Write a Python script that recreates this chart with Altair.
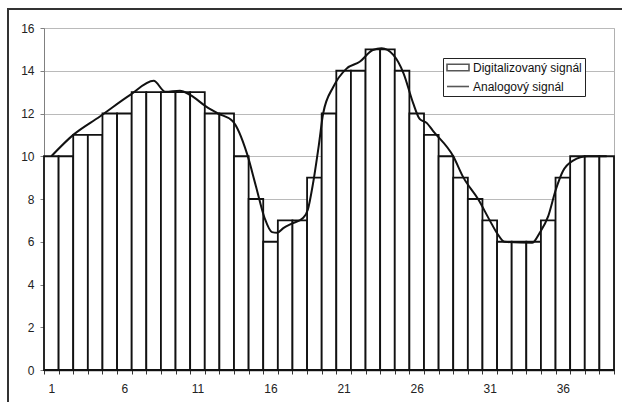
import altair as alt
import pandas as pd

# ---- data ----
categories = list(range(1, 40))
digital = [10, 10, 11, 11, 12, 12, 13, 13, 13, 13, 13, 12, 12, 10, 8, 6, 7, 7, 9, 12,
           14, 14, 15, 15, 14, 12, 11, 10, 9, 8, 7, 6, 6, 6, 7, 9, 10, 10, 10]

analog_x = [1.0, 2.5, 4.3, 6.4, 8.0, 8.8, 9.8, 10.5, 11.6, 12.4, 13.4, 14.4, 15.0, 15.6,
            16.1, 16.45, 16.9, 17.5, 18.2, 18.55, 18.9, 19.3, 19.6, 20.3, 21.2, 22.1,
            23.0, 23.6, 24.4, 25.1, 25.75, 26.2, 26.7, 27.1, 28.5, 29.2, 30.2, 31.0,
            31.5, 32.0, 33.9, 34.4, 35.0, 35.5, 36.0, 36.7, 37.7, 39.0]
analog_y = [10.0, 11.0, 11.85, 12.87, 13.53, 13.02, 13.07, 12.87, 12.32, 12.0, 11.65, 10.1,
            8.6, 7.1, 6.45, 6.42, 6.65, 6.86, 7.1, 7.5, 8.7, 10.5, 12.0, 13.25, 14.1,
            14.42, 14.97, 15.05, 14.74, 13.88, 12.5, 11.75, 11.55, 11.2, 10.0, 9.0, 8.0,
            7.0, 6.4, 6.0, 5.95, 6.4, 7.2, 8.4, 9.3, 9.8, 10.0, 10.0]

SER_D = "Digitalizovaný signál"
SER_A = "Analogový signál"
series = [SER_D, SER_A]
y_ticks = [0, 2, 4, 6, 8, 10, 12, 14, 16]
x_labels = [1, 6, 11, 16, 21, 26, 31, 36]

bars_df = pd.DataFrame({"cat": categories, "value": digital})
line_df = pd.DataFrame({"x": analog_x, "y": analog_y})
legend_df = pd.DataFrame({"series": series})
boundaries = [c - 0.5 for c in categories] + [categories[-1] + 0.5]

FONT = "Liberation Sans"
INK = "#111111"

x_scale = alt.Scale(domain=[0.5, 39.5], nice=False, zero=False)
y_scale = alt.Scale(domain=[0, 16], nice=False)
stroke_scale = alt.Scale(domain=series, range=[INK, INK])
path_rect = "M-1,-0.6H3.0V0.6H-1Z"
path_line = "M-1,0H3.0"
shape_scale = alt.Scale(domain=series, range=[path_rect, path_line])

label_expr = (
    "indexof([" + ",".join(str(v) for v in x_labels) + "], round(datum.value + 0.5)) >= 0"
    " ? '' + round(datum.value + 0.5) : ''"
)

x_axis = alt.Axis(values=boundaries, labelExpr=label_expr, labelOffset=7.3, tickSize=4,
                  tickColor="#333333", domainColor="#333333", domainWidth=1.5,
                  grid=False, title=None, labelOverlap=False, labelFlush=False,
                  labelPadding=9, labelBound=False, labelSeparation=0)
y_axis = alt.Axis(values=y_ticks, tickSize=4, tickColor="#808080", domainColor="#808080",
                  labelPadding=6, grid=True, gridColor="#bababa", gridWidth=1, title=None,
                  labelOverlap=False)

legend = alt.Legend(
    title=None, orient="none", legendX=399, legendY=30,
    strokeColor="#222222", fillColor="white", padding=3,
    labelFont=FONT, labelFontSize=12, labelColor=INK,
    symbolSize=121, symbolStrokeWidth=1.6, symbolFillColor="white",
    rowPadding=6, labelOffset=14,
)

bars = alt.Chart(bars_df).transform_calculate(
    x0="datum.cat - 0.5", x1="datum.cat + 0.5"
).mark_rect(fill="white", stroke=INK, strokeWidth=1.8).encode(
    x=alt.X("x0:Q", scale=x_scale, axis=x_axis),
    x2="x1:Q",
    y=alt.Y("value:Q", scale=y_scale, axis=y_axis),
    y2=alt.datum(0),
)

line = alt.Chart(line_df).mark_line(interpolate="monotone", strokeWidth=2, color=INK).encode(
    x=alt.X("x:Q", scale=x_scale, axis=x_axis),
    y=alt.Y("y:Q", scale=y_scale, axis=y_axis),
)

# legend source: points hidden under the legend box
legend_layer = alt.Chart(legend_df).mark_point(filled=False, size=121).encode(
    x=alt.value(450), y=alt.value(45),
    shape=alt.Shape("series:N", scale=shape_scale, legend=legend),
    stroke=alt.Stroke("series:N", scale=stroke_scale, legend=legend),
)

frame_df = pd.DataFrame({"k": [0]})
frame_left = alt.Chart(frame_df).mark_rule(color="#333333", strokeWidth=2).encode(
    x=alt.value(-36), y=alt.value(-19), y2=alt.value(380)
)
frame_top = alt.Chart(frame_df).mark_rule(color="#333333", strokeWidth=2).encode(
    x=alt.value(-37), x2=alt.value(590), y=alt.value(-19)
)

chart = alt.layer(bars, line, legend_layer, frame_left, frame_top).properties(
    width=570, height=342,
    padding={"left": 44, "top": 28, "right": 8, "bottom": 32},
    autosize=alt.AutoSizeParams(type="none"),
    background="white",
).configure_axis(
    labelFont=FONT, labelFontSize=12, labelColor="#222222"
).configure_view(stroke="#b0b0b0")

chart.save("out.html", embed_options={"renderer": "svg", "actions": False})
